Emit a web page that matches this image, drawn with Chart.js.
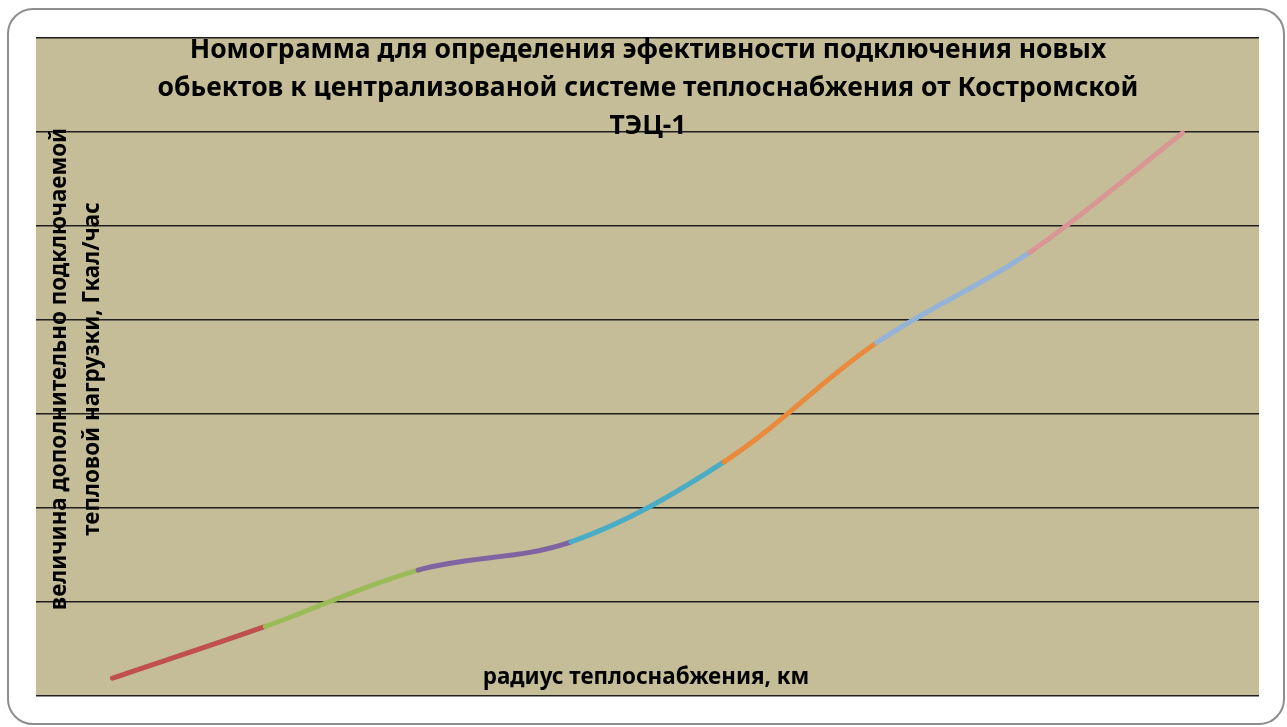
<!DOCTYPE html>
<html lang="ru">
<head>
<meta charset="utf-8">
<title>Номограмма — Костромская ТЭЦ-1</title>
<script src="https://cdn.jsdelivr.net/npm/chart.js@4.4.1/dist/chart.umd.min.js"></script>
<style>
  html, body { margin: 0; padding: 0; background: #fff; }
  #card {
    position: absolute; left: 7px; top: 8px;
    width: 1274px; height: 713px;
    border: 2px solid #8e8e8e; border-radius: 26px;
  }
  #wrap { position: absolute; left: 0; top: 0; width: 1287px; height: 727px; }
</style>
</head>
<body>
<div id="card"></div>
<div id="wrap"><canvas id="nomogram"></canvas></div>
<script>
// radius points along the x axis (no tick labels on the chart)
const radiusPoints = ['1', '2', '3', '4', '5', '6', '7', '8'];
// additional connectable heat load, Gcal/h
const heatLoad = [0.19, 0.74, 1.34, 1.64, 2.49, 3.76, 4.72, 5.99];
// one colour per stretch between neighbouring points
const segmentColors = ['#C0504D', '#9BBB59', '#8064A2', '#4BACC6', '#E98A3D', '#95B3D7', '#D99694'];

const titleLines = [
  'Номограмма для определения эфективности подключения новых',
  'обьектов к централизованой системе теплоснабжения от Костромской',
  'ТЭЦ-1'
];
const yTitleLines = ['величина дополнительно подключаемой', 'тепловой нагрузки, Гкал/час'];
const xTitle = 'радиус теплоснабжения, км';

const FONT = '"Noto Sans", "Liberation Sans", sans-serif';

// tan plot background behind grid and line
const plotBackground = {
  id: 'plotBackground',
  beforeDraw(chart) {
    const { ctx, chartArea: a } = chart;
    ctx.save();
    ctx.fillStyle = '#C4BD97';
    ctx.fillRect(a.left, a.top, a.right - a.left, a.bottom - a.top);
    ctx.restore();
  }
};

// titles sit inside the plot area, over the gridlines
const overlayTitles = {
  id: 'overlayTitles',
  afterDraw(chart) {
    const { ctx } = chart;
    ctx.save();
    ctx.fillStyle = '#000';
    ctx.textAlign = 'center';
    ctx.textBaseline = 'middle';

    ctx.font = 'bold 26.5px ' + FONT;
    titleLines.forEach((t, i) => ctx.fillText(t, 648, 50 + i * 38));

    ctx.font = 'bold 22.4px ' + FONT;
    ctx.fillText(xTitle, 646, 678);

    ctx.translate(0, 369);
    ctx.rotate(-Math.PI / 2);
    ctx.fillText(yTitleLines[0], 0, 60);
    ctx.fillText(yTitleLines[1], 0, 93);
    ctx.restore();
  }
};

new Chart(document.getElementById('nomogram'), {
  type: 'line',
  data: {
    labels: radiusPoints,
    datasets: [{
      data: heatLoad,
      borderWidth: 5,
      borderCapStyle: 'round',
      borderJoinStyle: 'round',
      tension: 0.35,
      pointRadius: 0,
      fill: false,
      segment: {
        borderColor: ctx => segmentColors[ctx.p0DataIndex]
      }
    }]
  },
  options: {
    responsive: true,
    maintainAspectRatio: false,
    animation: false,
    layout: { padding: { left: 36, right: 28, top: 38, bottom: 31 } },
    plugins: {
      legend: { display: false },
      tooltip: { enabled: false },
      title: { display: false }
    },
    scales: {
      x: {
        type: 'category',
        offset: true,
        grid: { display: false },
        border: { display: false },
        ticks: { display: false },
        afterFit: scale => { scale.height = 0; }
      },
      y: {
        min: 0,
        max: 7,
        ticks: { display: false, stepSize: 1 },
        grid: { color: '#1f1f1f', lineWidth: 1.4, drawTicks: false },
        border: { display: false },
        afterFit: scale => { scale.width = 0; }
      }
    }
  },
  plugins: [plotBackground, overlayTitles]
});
</script>
</body>
</html>
